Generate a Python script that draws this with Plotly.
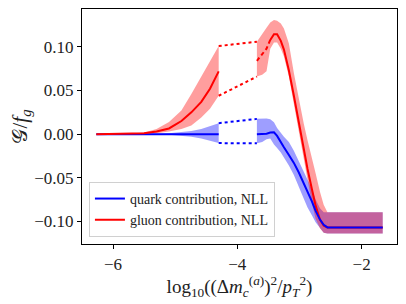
import plotly.graph_objects as go

# ---- data ----
# left segment
xa = [-6.27, -5.8, -5.5, -5.3, -5.1, -4.9, -4.74, -4.58, -4.44, -4.30]
g_mid_a = [0.0, 0.0002, 0.001, 0.003, 0.0065, 0.015, 0.025, 0.037, 0.052, 0.072]
g_up_a = [0.0, 0.0003, 0.002, 0.006, 0.014, 0.027, 0.046, 0.066, 0.084, 0.101]
g_lo_a = [0.0, 0.0, 0.0005, 0.001, 0.003, 0.006, 0.010, 0.019, 0.029, 0.044]
q_mid_a = [0.0, 0.0, 0.0, 0.0, 0.0, 0.0, 0.0, 0.0, 0.0, 0.0]
q_up_a = [0.0, 0.0, 0.0, 0.0003, 0.001, 0.002, 0.0035, 0.006, 0.009, 0.0126]
q_lo_a = [0.0, 0.0, 0.0, -0.0002, -0.0008, -0.0016, -0.0029, -0.005, -0.0074, -0.0103]

# right segment
xb = [-3.685, -3.60, -3.53, -3.47, -3.41, -3.36, -3.30, -3.25, -3.17, -3.09,
      -3.01, -2.93, -2.87, -2.80, -2.74, -2.67, -2.61, -2.55, -2.50, -1.66]
g_mid_b = [0.084, 0.092, 0.098, 0.108, 0.1145, 0.1145, 0.107, 0.097, 0.073, 0.044,
           0.013, -0.015, -0.040, -0.063, -0.082, -0.098, -0.105, -0.107, -0.107, -0.107]
g_up_b = [0.106, 0.114, 0.122, 0.128, 0.131, 0.130, 0.127, 0.121, 0.104, 0.070,
          0.040, 0.012, -0.007, -0.026, -0.045, -0.066, -0.081, -0.0895, -0.0895, -0.0895]
g_lo_b = [0.066, 0.068, 0.072, 0.098, 0.105, 0.105, 0.098, 0.089, 0.066, 0.036,
          0.002, -0.028, -0.052, -0.079, -0.097, -0.108, -0.113, -0.114, -0.114, -0.114]
q_mid_b = [0.0, 0.0, 0.0005, 0.0018, 0.002, -0.002, -0.010, -0.015, -0.024, -0.033,
           -0.044, -0.056, -0.066, -0.077, -0.088, -0.098, -0.104, -0.107, -0.107, -0.107]
q_up_b = [0.0175, 0.0178, 0.018, 0.017, 0.0135, 0.007, 0.001, -0.003, -0.009, -0.019,
          -0.031, -0.043, -0.052, -0.063, -0.075, -0.085, -0.0895, -0.0895, -0.0895, -0.0895]
q_lo_b = [-0.0105, -0.009, -0.006, -0.005, -0.012, -0.016, -0.021, -0.027, -0.036, -0.047,
          -0.060, -0.074, -0.084, -0.093, -0.101, -0.108, -0.113, -0.114, -0.114, -0.114]

n_dash = 4  # first points of gluon right segment drawn dashed

x_ticks = [-6, -4, -2]
x_ticklabels = ["\u22126", "\u22124", "\u22122"]
y_ticks = [-0.10, -0.05, 0.00, 0.05, 0.10]
y_ticklabels = ["\u22120.10", "\u22120.05", "0.00", "0.05", "0.10"]

BLUE = "#0000ff"
RED = "#ff0000"
BLUE_F = "rgba(0,0,255,0.38)"
RED_F = "rgba(255,0,0,0.38)"

fig = go.Figure()


def band(x, lo, up, color):
    fig.add_trace(go.Scatter(x=list(x) + list(x)[::-1], y=list(up) + list(lo)[::-1],
                             fill="toself", fillcolor=color, line=dict(width=0),
                             mode="lines", hoverinfo="skip", showlegend=False))


def line(x, y, color, dash="solid", name=None, show=False, width=2):
    fig.add_trace(go.Scatter(x=x, y=y, mode="lines", name=name, showlegend=show,
                             line=dict(color=color, width=width, dash=dash)))


# bands
band(xa, q_lo_a, q_up_a, BLUE_F)
band(xb, q_lo_b, q_up_b, BLUE_F)
band(xa, g_lo_a, g_up_a, RED_F)
band(xb, g_lo_b, g_up_b, RED_F)

# dotted connectors over the gap
for lo_a, up_a, lo_b, up_b, c in [(q_lo_a, q_up_a, q_lo_b, q_up_b, BLUE),
                                  (g_lo_a, g_up_a, g_lo_b, g_up_b, RED)]:
    line([xa[-1], xb[0]], [up_a[-1], up_b[0]], c, dash="dot")
    line([xa[-1], xb[0]], [lo_a[-1], lo_b[0]], c, dash="dot")

# central lines, left segment (red over blue)
line(xa, q_mid_a, BLUE)
line(xa, g_mid_a, RED)
# right segment (blue over red)
line(xb[:n_dash], g_mid_b[:n_dash], RED, dash="4px,3px")
line(xb[n_dash - 1:], g_mid_b[n_dash - 1:], RED)
line(xb, q_mid_b, BLUE)

# legend entries
fig.add_trace(go.Scatter(x=[None], y=[None], mode="lines", name="quark contribution, NLL",
                         line=dict(color=BLUE, width=2)))
fig.add_trace(go.Scatter(x=[None], y=[None], mode="lines", name="gluon contribution, NLL",
                         line=dict(color=RED, width=2)))

FONT = "Liberation Serif"
# the page body has an 8px margin, so the figure is 8px smaller and margins shifted
fig.update_layout(
    width=398, height=296,
    margin=dict(l=74, r=9, t=1, b=60),
    paper_bgcolor="white", plot_bgcolor="white",
    font=dict(family=FONT, color="#222222", size=17),
    showlegend=True,
    legend=dict(x=0.022, y=0.03, xanchor="left", yanchor="bottom",
                bgcolor="rgba(255,255,255,0.85)", bordercolor="#d0d0d0", borderwidth=1,
                font=dict(family=FONT, size=14, color="#222222"), itemwidth=30,
                tracegroupgap=0),
)
fig.update_xaxes(range=[-6.50, -1.43], tickvals=x_ticks, ticktext=x_ticklabels,
                 showgrid=False, zeroline=False, showline=True, linecolor="black",
                 linewidth=1.2, mirror=True, ticks="outside", ticklen=4, tickcolor="black",
                 tickfont=dict(size=17),
                 title=dict(text="log<sub>10</sub>((Δ<i>m</i><sub><i>c</i></sub><sup>(<i>a</i>)</sup>)<sup>2</sup>/<i>p</i><sub><i>T</i></sub><sup>2</sup>)",
                            font=dict(size=19), standoff=6))
fig.update_yaxes(range=[-0.126, 0.1435], tickvals=y_ticks, ticktext=y_ticklabels,
                 showgrid=False, zeroline=False, showline=True, linecolor="black",
                 linewidth=1.2, mirror=True, ticks="outside", ticklen=4, tickcolor="black",
                 tickfont=dict(size=17),
                 title=dict(text="𝒢/<i>f</i><sub><i>g</i></sub>", font=dict(size=21), standoff=6))

fig.write_html("out.html")
